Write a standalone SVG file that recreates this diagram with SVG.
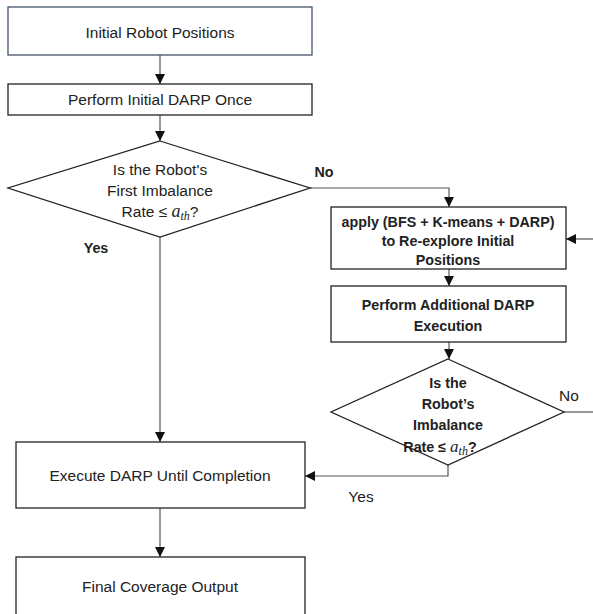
<svg xmlns="http://www.w3.org/2000/svg" width="593" height="614" viewBox="0 0 593 614">
<style>
.box{fill:#fff;stroke:#222;stroke-width:1.3}
.t{font-family:"Liberation Sans",Arial,sans-serif;font-size:15.5px;fill:#222;text-anchor:middle}
.b{font-weight:bold;font-size:14.3px}
.ln{fill:none;stroke:#555;stroke-width:1.2}
.m{font-family:"Liberation Serif",serif;font-style:italic}
</style>
<defs>
<marker id="ah" viewBox="0 0 10 10" refX="10" refY="5" markerWidth="10" markerHeight="10" markerUnits="userSpaceOnUse" orient="auto">
<path d="M0,0 L10,5 L0,10 z" fill="#111"/>
</marker>
</defs>
<rect width="593" height="614" fill="#fff"/>
<g id="connectors">
<line class="ln" x1="160" y1="55" x2="160" y2="84" marker-end="url(#ah)"/>
<line class="ln" x1="160" y1="115" x2="160" y2="141" marker-end="url(#ah)"/>
<polyline class="ln" points="310,188 449,188 449,207" marker-end="url(#ah)"/>
<line class="ln" x1="160" y1="237" x2="160" y2="442" marker-end="url(#ah)"/>
<line class="ln" x1="593" y1="239" x2="566" y2="239" marker-end="url(#ah)"/>
<line class="ln" x1="449" y1="269" x2="449" y2="286" marker-end="url(#ah)"/>
<line class="ln" x1="449" y1="342" x2="449" y2="359" marker-end="url(#ah)"/>
<line class="ln" x1="564" y1="412" x2="593" y2="412"/>
<polyline class="ln" points="448,465 448,476 305,476" marker-end="url(#ah)"/>
<line class="ln" x1="160" y1="508" x2="160" y2="557" marker-end="url(#ah)"/>
<text class="t b" x="324" y="177" text-anchor="start">No</text>
<text class="t b" x="96" y="253" text-anchor="start">Yes</text>
<text class="t" x="569" y="401" text-anchor="start">No</text>
<text class="t" x="361" y="502" text-anchor="start">Yes</text>
</g>
<g id="start">
<rect class="box" x="8" y="7" width="304" height="48" style="stroke:#44546a"/>
<text class="t" x="160" y="38">Initial Robot Positions</text>
</g>
<g id="initdarp">
<rect class="box" x="8" y="84" width="304" height="31"/>
<text class="t" x="160" y="105">Perform Initial DARP Once</text>
</g>
<g id="decision1">
<polygon class="box" points="160,141 310,188 160,237 8,188"/>
<text class="t" x="160" y="175">Is the Robot's</text>
<text class="t" x="160" y="196">First Imbalance</text>
<text class="t" x="160" y="217">Rate  ≤ <tspan class="m" font-size="18">a</tspan><tspan class="m" font-size="12" dy="3">th</tspan><tspan dy="-3">?</tspan></text>
</g>
<g id="reexplore">
<rect class="box" x="331" y="207" width="235" height="62"/>
<text class="t b" x="448" y="227">apply (BFS + K-means + DARP)</text>
<text class="t b" x="448" y="246">to Re-explore Initial</text>
<text class="t b" x="448" y="265">Positions</text>
</g>
<g id="additional">
<rect class="box" x="331" y="286" width="235" height="56"/>
<text class="t b" x="448" y="310">Perform Additional DARP</text>
<text class="t b" x="448" y="331">Execution</text>
</g>
<g id="decision2">
<polygon class="box" points="448,359 564,412 448,465 331,412"/>
<text class="t b" x="448" y="388">Is the</text>
<text class="t b" x="448" y="409">Robot’s</text>
<text class="t b" x="448" y="430">Imbalance</text>
<text class="t b" x="440" y="452">Rate ≤ <tspan class="m" font-size="17" font-weight="normal">a</tspan><tspan class="m" font-size="12" font-weight="normal" dy="3">th</tspan><tspan dy="-3">?</tspan></text>
</g>
<g id="execute">
<rect class="box" x="16" y="442" width="289" height="66"/>
<text class="t" x="160" y="481">Execute DARP Until Completion</text>
</g>
<g id="final">
<rect class="box" x="16" y="557" width="289" height="70"/>
<text class="t" x="160" y="592">Final Coverage Output</text>
</g>
</svg>
